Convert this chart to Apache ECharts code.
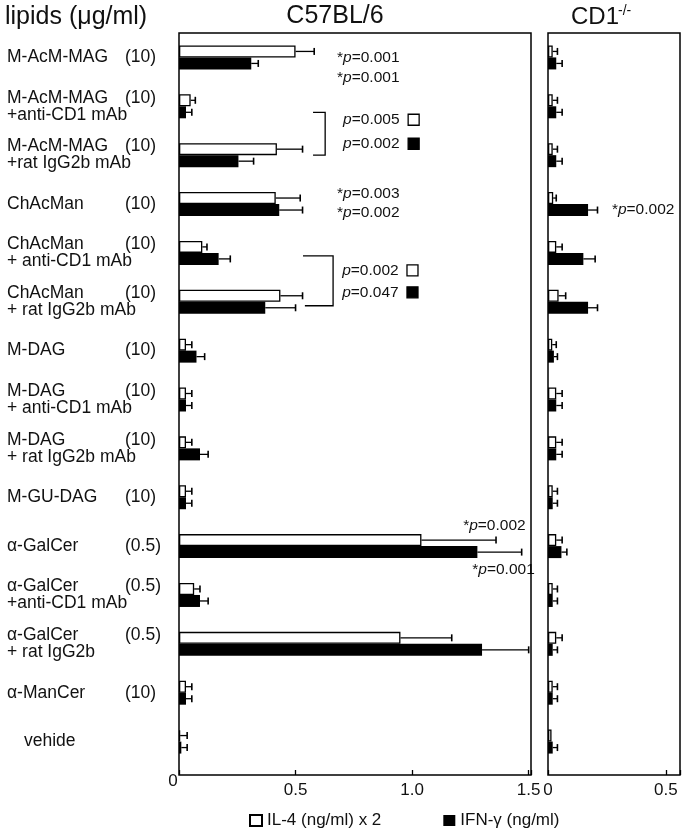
<!DOCTYPE html>
<html><head><meta charset="utf-8">
<script src="https://cdn.jsdelivr.net/npm/echarts@6/dist/echarts.min.js"></script>
<style>html,body{margin:0;padding:0;background:#fff}#c{width:685px;height:832px}</style>
</head><body><div id="c"></div>
<script>
// ---------- data ----------
const lipidNames = ['M-AcM-MAG','M-AcM-MAG','M-AcM-MAG','ChAcMan','ChAcMan','ChAcMan','M-DAG','M-DAG','M-DAG','M-GU-DAG','α-GalCer','α-GalCer','α-GalCer','α-ManCer','vehide'];
const lipidTreat = ['','+anti-CD1 mAb','+rat IgG2b mAb','','+ anti-CD1 mAb','+ rat IgG2b mAb','','+ anti-CD1 mAb','+ rat IgG2b mAb','','','+anti-CD1 mAb','+ rat IgG2b','',''];
const lipidDose  = ['(10)','(10)','(10)','(10)','(10)','(10)','(10)','(10)','(10)','(10)','(0.5)','(0.5)','(0.5)','(10)',''];

// C57BL/6
const il4Wt   = [0.50,0.05,0.42,0.415,0.10,0.435,0.03,0.03,0.03,0.03,1.04,0.065,0.95,0.03,0.005];
const il4WtSd = [0.08,0.02,0.11,0.105,0.02,0.095,0.025,0.025,0.025,0.025,0.32,0.025,0.22,0.025,0.03];
const ifnWt   = [0.31,0.03,0.255,0.43,0.17,0.37,0.075,0.03,0.09,0.03,1.28,0.09,1.30,0.03,0.01];
const ifnWtSd = [0.03,0.025,0.065,0.10,0.05,0.13,0.035,0.025,0.035,0.025,0.19,0.035,0.20,0.025,0.025];
// CD1-/-
const il4Ko   = [0.02,0.02,0.02,0.022,0.035,0.045,0.018,0.035,0.035,0.02,0.035,0.02,0.035,0.02,0.015];
const il4KoSd = [0.02,0.02,0.02,0.013,0.025,0.03,0.017,0.025,0.025,0.02,0.025,0.02,0.025,0.02,0];
const ifnKo   = [0.035,0.035,0.035,0.17,0.15,0.17,0.025,0.035,0.035,0.02,0.057,0.02,0.02,0.02,0.02];
const ifnKoSd = [0.025,0.025,0.025,0.04,0.05,0.04,0.015,0.025,0.025,0.02,0.023,0.02,0.02,0.02,0.02];

const xTicksWt = [0, 0.5, 1.0, 1.5];
const xTicksKo = [0, 0.5];
const xTickLabelsWt = ['0','0.5','1.0','1.5'];
const xTickLabelsKo = ['0','0.5'];
const seriesNames = ['IL-4 (ng/ml) x 2', 'IFN-γ (ng/ml)'];
const panelTitles = ['C57BL/6', 'CD1', '-/-'];
const yTitle = 'lipids (μg/ml)';
const pNotes = ['0.001','0.001','0.005','0.002','0.003','0.002','0.002','0.047','0.002','0.001','0.002'];

// ---------- chart ----------
const FONT = '"Liberation Sans", Arial, sans-serif';
const chart = echarts.init(document.getElementById('c'), null, {renderer:'canvas'});
const BW = 12;

function errRender(offset){
  return function(params, api){
    const v = api.value(0), c = api.value(1), sd = api.value(2);
    if (!sd) return null;
    const p0 = api.coord([v, c]), p1 = api.coord([v + sd, c]);
    const y = p0[1] + offset;
    return {type:'group', children:[
      {type:'line', shape:{x1:p0[0], y1:y, x2:p1[0], y2:y}, style:{stroke:'#000', lineWidth:1.3}},
      {type:'line', shape:{x1:p1[0], y1:y-3.5, x2:p1[0], y2:y+3.5}, style:{stroke:'#000', lineWidth:1.6}}
    ]};
  };
}
function errData(vals, sds){ return vals.map((v,i)=>[v, i, sds[i]]); }

function catLabel(value, idx){
  const n = lipidNames[idx], d = lipidDose[idx], t = lipidTreat[idx];
  if (!d) return '{v|' + n + '}';
  return '{n|' + n + '}{d|' + d + '}' + (t ? '\n{t|' + t + '}' : '');
}

function xFmt(ticks, labels, skipZero){
  return function(v){
    for (let i=0;i<ticks.length;i++){
      if (Math.abs(v-ticks[i])<1e-6) return (skipZero && i===0) ? '' : labels[i];
    }
    return '';
  };
}

const labelStyle = {fontFamily:FONT, fontSize:17, color:'#111'};

const option = {
  animation:false,
  backgroundColor:'#fff',
  textStyle:{fontFamily:FONT},
  grid:[
    {left:179, top:33, width:352, height:733},
    {left:548, top:33, width:132, height:733}
  ],
  xAxis:[
    {gridIndex:0, type:'value', min:0, max:1.51, interval:0.5, offset:9,
     axisLine:{show:false}, splitLine:{show:false},
     axisTick:{show:true, inside:true, length:5, lineStyle:{color:'#000', width:1.3}},
     axisLabel:Object.assign({margin:7, formatter:xFmt(xTicksWt, xTickLabelsWt, true)}, labelStyle)},
    {gridIndex:1, type:'value', min:0, max:0.56, interval:0.5, offset:9,
     axisLine:{show:false}, splitLine:{show:false},
     axisTick:{show:true, inside:true, length:5, lineStyle:{color:'#000', width:1.3}},
     axisLabel:Object.assign({margin:7, formatter:xFmt(xTicksKo, xTickLabelsKo, false)}, labelStyle)}
  ],
  yAxis:[
    {gridIndex:0, type:'category', inverse:true, data:lipidNames.map((n,i)=>n+i),
     axisLine:{show:false}, axisTick:{show:false}, splitLine:{show:false},
     axisLabel:{align:'left', margin:172, formatter:catLabel, lineHeight:17,
       rich:{
         n:{fontFamily:FONT, fontSize:17.5, color:'#111', width:118, lineHeight:17},
         d:{fontFamily:FONT, fontSize:17.5, color:'#111', lineHeight:17},
         t:{fontFamily:FONT, fontSize:17.5, color:'#111', lineHeight:17},
         v:{fontFamily:FONT, fontSize:17.5, color:'#111', lineHeight:17, padding:[0,0,0,17]}
       }}},
    {gridIndex:1, type:'category', inverse:true, data:lipidNames.map((n,i)=>n+i),
     axisLine:{show:false}, axisTick:{show:false}, splitLine:{show:false}, axisLabel:{show:false}}
  ],
  legend:{
    data:seriesNames, left:244, top:807, itemGap:62, itemWidth:12, itemHeight:11,
    icon:'rect', selectedMode:false,
    textStyle:{fontFamily:FONT, fontSize:17, color:'#111'}
  },
  series:[
    {name:seriesNames[0], type:'bar', xAxisIndex:0, yAxisIndex:0, data:il4Wt, barWidth:BW, barGap:'0%',
     itemStyle:{color:'#fff', borderColor:'#000', borderWidth:1.3}},
    {name:seriesNames[1], type:'bar', xAxisIndex:0, yAxisIndex:0, data:ifnWt, barWidth:BW, barGap:'0%',
     itemStyle:{color:'#000', borderColor:'#000', borderWidth:0}},
    {name:seriesNames[0], type:'bar', xAxisIndex:1, yAxisIndex:1, data:il4Ko, barWidth:BW, barGap:'0%',
     itemStyle:{color:'#fff', borderColor:'#000', borderWidth:1.3}},
    {name:seriesNames[1], type:'bar', xAxisIndex:1, yAxisIndex:1, data:ifnKo, barWidth:BW, barGap:'0%',
     itemStyle:{color:'#000', borderColor:'#000', borderWidth:0}},
    {type:'custom', xAxisIndex:0, yAxisIndex:0, renderItem:errRender(-BW/2), data:errData(il4Wt, il4WtSd), encode:{x:0,y:1}, z:5},
    {type:'custom', xAxisIndex:0, yAxisIndex:0, renderItem:errRender(BW/2), data:errData(ifnWt, ifnWtSd), encode:{x:0,y:1}, z:5},
    {type:'custom', xAxisIndex:1, yAxisIndex:1, renderItem:errRender(-BW/2), data:errData(il4Ko, il4KoSd), encode:{x:0,y:1}, z:5},
    {type:'custom', xAxisIndex:1, yAxisIndex:1, renderItem:errRender(BW/2), data:errData(ifnKo, ifnKoSd), encode:{x:0,y:1}, z:5}
  ]
};
chart.setOption(option);

// ---------- annotations ----------
function P(g, v, row){ return chart.convertToPixel({gridIndex:g}, [v, row]); }
function pText(txt, g, v, row, dy){
  const p = P(g, v, row);
  return {type:'text', x:p[0], y:p[1]+dy, style:{
    text:'{s|' + (txt.star ? '*' : '') + '}{i|p}{s|=' + txt.val + '}',
    verticalAlign:'middle', align:'left',
    rich:{s:{fontFamily:FONT, fontSize:15.5, fill:'#111'}, i:{fontFamily:FONT, fontSize:15.5, fontStyle:'italic', fill:'#111'}}
  }, z:10};
}
function box(g, v, row, dy, filled){
  const p = P(g, v, row);
  return {type:'rect', shape:{x:p[0], y:p[1]+dy-5.5, width:11, height:11},
    style:{fill: filled ? '#000' : '#fff', stroke:'#000', lineWidth:1.3}, z:10};
}
function bracket(g, vIn1, vIn2, vOut, r1, dy1, r2, dy2){
  const a = P(g, vIn1, r1), b = P(g, vOut, r1), c = P(g, vIn2, r2);
  return {type:'polyline', shape:{points:[[a[0], a[1]+dy1],[b[0], a[1]+dy1],[b[0], c[1]+dy2],[c[0], c[1]+dy2]]},
    style:{stroke:'#000', lineWidth:1.3, fill:null}, z:10};
}

const g = [];
// frames
g.push({type:'rect', shape:{x:179, y:33, width:352, height:742}, style:{fill:null, stroke:'#000', lineWidth:1.5}, z:20});
g.push({type:'rect', shape:{x:548, y:33, width:132, height:742}, style:{fill:null, stroke:'#000', lineWidth:1.5}, z:20});
// titles
g.push({type:'text', x:5, y:17, style:{text:yTitle, font:'25px ' + FONT, fill:'#111', verticalAlign:'middle'}});
g.push({type:'text', x:335, y:16, style:{text:panelTitles[0], font:'25px ' + FONT, fill:'#111', align:'center', verticalAlign:'middle'}});
g.push({type:'text', x:571, y:17, style:{text:panelTitles[1], font:'24px ' + FONT, fill:'#111', verticalAlign:'middle'}});
g.push({type:'text', x:618, y:11, style:{text:panelTitles[2], font:'14px ' + FONT, fill:'#111', verticalAlign:'middle'}});
// zero label of first panel
g.push({type:'text', x:173, y:781, style:{text:xTickLabelsWt[0], font:'17px ' + FONT, fill:'#111', align:'center', verticalAlign:'middle'}});

// p-values
g.push(pText({star:true, val:pNotes[0]}, 0, 0.678, 0, 0));
g.push(pText({star:true, val:pNotes[1]}, 0, 0.678, 0, 20));
g.push(bracket(0, 0.575, 0.575, 0.627, 1, 6, 2, 0));
const mid12 = (P(0,0,1)[1] + P(0,0,2)[1]) / 2;
g.push(pText({star:false, val:pNotes[2]}, 0, 0.704, 1, mid12 - P(0,0,1)[1] - 11));
g.push(pText({star:false, val:pNotes[3]}, 0, 0.704, 1, mid12 - P(0,0,1)[1] + 13));
g.push(box(0, 0.983, 1, mid12 - P(0,0,1)[1] - 11, false));
g.push(box(0, 0.983, 1, mid12 - P(0,0,1)[1] + 13, true));
g.push(pText({star:true, val:pNotes[4]}, 0, 0.678, 3, -10));
g.push(pText({star:true, val:pNotes[5]}, 0, 0.678, 3, 9));
g.push(bracket(0, 0.532, 0.54, 0.661, 4, 3, 5, 4));
const mid45 = (P(0,0,4)[1] + P(0,0,5)[1]) / 2;
g.push(pText({star:false, val:pNotes[6]}, 0, 0.70, 4, mid45 - P(0,0,4)[1] - 7));
g.push(pText({star:false, val:pNotes[7]}, 0, 0.70, 4, mid45 - P(0,0,4)[1] + 15));
g.push(box(0, 0.978, 4, mid45 - P(0,0,4)[1] - 7, false));
g.push(box(0, 0.978, 4, mid45 - P(0,0,4)[1] + 15, true));
g.push(pText({star:true, val:pNotes[8]}, 0, 1.219, 10, -20));
g.push(pText({star:true, val:pNotes[9]}, 0, 1.258, 10, 24));
g.push(pText({star:true, val:pNotes[10]}, 1, 0.271, 3, 6));

chart.setOption({graphic:g});
</script></body></html>
